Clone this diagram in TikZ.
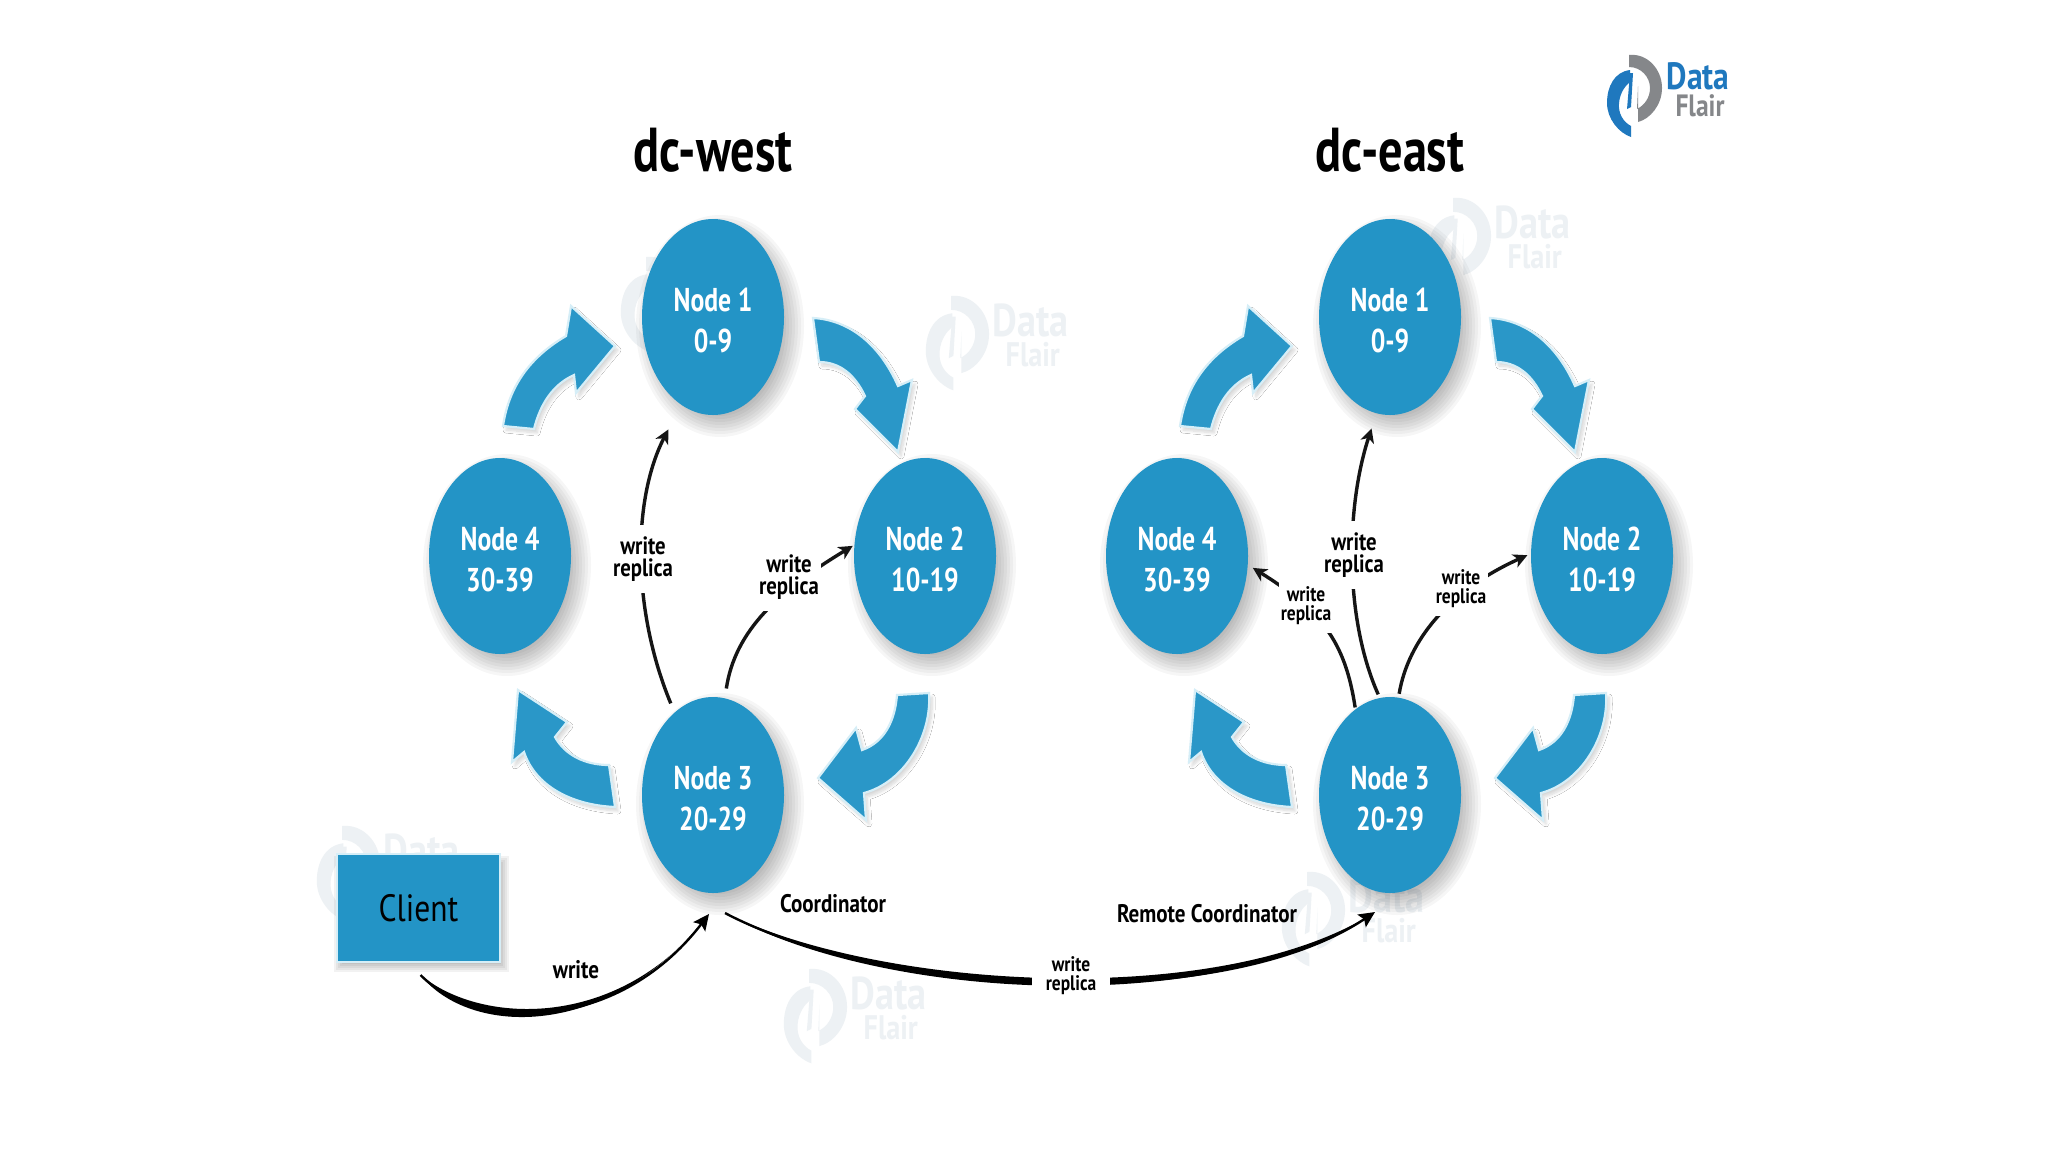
\documentclass[tikz,border=0pt]{standalone}
\usepackage{fontspec}
\setmainfont{PT Sans}[FakeStretch=0.78]
\newfontfamily\widerface{PT Sans}[FakeStretch=0.83]
\usetikzlibrary{shapes.geometric,arrows.meta,shadows.blur}
\definecolor{nodeblue}{HTML}{2394C6}
\definecolor{arrowblue}{HTML}{2A97C8}
\definecolor{rimblue}{HTML}{D6EEF7}
\definecolor{logoblue}{HTML}{1F78BE}
\definecolor{logogray}{HTML}{85878A}
\definecolor{wmark}{HTML}{EDF1F4}
\definecolor{inkline}{HTML}{151515}
\tikzset{
  lightshadow/.style={blur shadow={shadow xshift=1.5pt,shadow yshift=-2pt,shadow blur steps=8,shadow blur radius=1.5pt,shadow opacity=16}},
  ringnode/.style={ellipse,fill=nodeblue,minimum width=71pt,minimum height=98pt,inner sep=0pt,outer sep=0pt,align=center,text=white,font=\fontsize{16.5}{20.5}\selectfont\bfseries},
  blockarrow/.style={fill=arrowblue,draw=rimblue,line width=1.1pt,line join=miter,lightshadow},
  flow/.style={draw=inkline,line width=1.7pt,-{Stealth[length=7pt,width=7pt,inset=2pt]}},
  bigflow/.style={draw=black,line width=1.2pt,-{Stealth[length=8pt,width=7.5pt,inset=1.5pt]}},
  lab/.style={fill=white,inner xsep=1pt,inner ysep=6pt,align=center,text=black,font=\widerface\fontsize{12.5}{11}\selectfont\bfseries},
  labsmall/.style={lab,inner ysep=4pt,font=\widerface\fontsize{10.5}{9.6}\selectfont\bfseries},
  plain/.style={inner sep=0pt,text=black,font=\widerface\fontsize{12.7}{14}\selectfont\bfseries},
  titletext/.style={inner sep=0pt,text=black,font=\fontsize{31}{34}\selectfont\bfseries},
}
% logo: name, x, y, scale, colour 1, colour 2, size of Data, size of Flair
\newcommand{\flairlogo}[8]{%
  \begin{scope}[shift={(#2,#3)},scale=#4]
    \fill[#6] (-6,-40) .. controls (12,-42) and (27,-26) .. (27,-7) .. controls (27,10) and (15,24) .. (3,27)
      -- (3,-9) -- (2,14) .. controls (10,10) and (15,2) .. (15,-7) .. controls (15,-18) and (6,-28) .. (-6,-28) -- cycle;
    \fill[#5] (-5,-25) .. controls (-21,-23) and (-28,-8) .. (-28,8) .. controls (-28,24) and (-16,38) .. (-4,42)
      -- (-4,31) .. controls (-12,27) and (-17,18) .. (-16,8) .. controls (-15,-3) and (-9,-10) .. (-5,-13) -- cycle;
    \fill[#5] (-5,-22) -- (-2,-22) -- (-4,12) -- (-8,14) -- cycle;
    \node[inner sep=0pt,text=#5,font=\widerface\fontsize{#7}{#7}\selectfont\bfseries] (#1a) at (63,-19) {Data};
    \node[inner sep=0pt,text=#6,font=\widerface\fontsize{#8}{#8}\selectfont\bfseries] (#1b) at (65,11) {Flair};
  \end{scope}}
\newcommand{\ringtext}[2]{\rule{0pt}{15.6pt}#1\\#2}
% soft shadow of a node: stacked faint ellipses
\newcommand{\softblob}[2]{%
  \foreach \grow in {-14,-11,-8,-5,-2,1,4,7,10,13}{%
    \fill[black,opacity=.034] (#1+7,#2+9) ellipse [x radius=71+\grow,y radius=98+\grow];}}
% one ring of four nodes and its four block arrows
\newcommand{\ringof}[2]{%
  \begin{scope}[shift={(#2,0)}]
    \path[blockarrow] (503,426) .. controls (508,392) and (525,360) .. (566,336) -- (571,306) -- (615,346) -- (576,393)
      -- (574,375) .. controls (552,385) and (540,405) .. (534,429) -- cycle;
    \path[blockarrow] (813,318) .. controls (850,320) and (880,345) .. (898,386) -- (912,380) -- (898,452) -- (855,409)
      -- (865,396) .. controls (855,375) and (840,362) .. (819,362) -- cycle;
    \path[blockarrow] (929,693) .. controls (932,735) and (905,782) .. (864,793) -- (866,820) -- (818,778) -- (856,728)
      -- (862,750) .. controls (885,742) and (895,720) .. (897,695) -- cycle;
    \path[blockarrow] (615,807) .. controls (570,805) and (535,785) .. (524,752) -- (512,762) -- (518,690) -- (567,722)
      -- (555,737) .. controls (565,755) and (585,765) .. (609,765) -- cycle;
    \softblob{713}{317}\softblob{925}{556}\softblob{713}{795}\softblob{500}{556}
    \node[ringnode] (#1one) at (713,317) {\ringtext{Node 1}{0-9}};
    \node[ringnode] (#1two) at (925,556) {\ringtext{Node 2}{10-19}};
    \node[ringnode] (#1three) at (713,795) {\ringtext{Node 3}{20-29}};
    \node[ringnode] (#1four) at (500,556) {\ringtext{Node 4}{30-39}};
  \end{scope}}
\begin{document}
\begin{tikzpicture}[x=0.5pt,y=-0.5pt]
\useasboundingbox (0,0) rectangle (2048,1152);
\fill[white] (0,0) rectangle (2048,1152);
% watermarks
\flairlogo{wa}{958}{342}{1.15}{wmark}{wmark}{23}{17}
\flairlogo{wb}{1460}{244}{1.15}{wmark}{wmark}{23}{17}
\flairlogo{wc}{816}{1015}{1.15}{wmark}{wmark}{23}{17}
\flairlogo{wd}{349}{872}{1.15}{wmark}{wmark}{23}{17}
\flairlogo{we}{1314}{918}{1.15}{wmark}{wmark}{23}{17}
\flairlogo{wf}{653}{303}{1.15}{wmark}{wmark}{23}{17}
% logo
\flairlogo{logo}{1635}{95}{1}{logoblue}{logogray}{19}{15.4}
% titles
\node[titletext] (titlewest) at (713,150) {dc-west};
\node[titletext] (titleeast) at (1390,150) {dc-east};
% rings
\ringof{w}{0}
\ringof{e}{677}
% client
\foreach \grow in {-6,-4,-2,0,2,4,6}{%
  \fill[black,opacity=.05] (337+3-\grow,854+8-\grow) rectangle (500+3+\grow,962+4+\grow);}
\node[rectangle,fill=nodeblue,draw=rimblue,line width=.6pt,minimum width=81.5pt,minimum height=54pt,inner sep=0pt,outer sep=0pt,text=black,font=\widerface\fontsize{19}{20}\selectfont] (client) at (418.5,908) {Client};
% west replicas
\draw[flow,shorten <=5pt,shorten >=14pt] (wthree.115) .. controls (632,610) and (632,500) .. (wone.250);
\node[lab] (lwone) at (643,559) {write\\replica};
\draw[flow,shorten <=5pt,shorten >=1pt] (wthree.83) .. controls (735,630) and (780,590) .. (wtwo.171);
\node[lab] (lwtwo) at (789,577) {write\\replica};
% east replicas
\draw[flow,shorten <=2pt,shorten >=8pt] (ethree.96) .. controls (1345,620) and (1345,510) .. (eone.262);
\node[lab] (leone) at (1354,555) {write\\replica};
\draw[flow,shorten <=1pt,shorten >=3pt] (ethree.112) .. controls (1345,640) and (1320,610) .. (efour.353);
\node[labsmall] (lefour) at (1306,606) {write\\replica};
\draw[flow,shorten <=2pt,shorten >=2pt] (ethree.85) .. controls (1408,640) and (1450,590) .. (etwo.178);
\node[labsmall] (letwo) at (1461,589) {write\\replica};
% client write: tapered curve
\fill[black] ([xshift=1pt,yshift=-6.5pt]client.south) .. controls (470,1037) and (610,1041) .. ([xshift=-2pt,yshift=-10.5pt]wthree.south)
  .. controls (622,1030) and (482,1026) .. ([xshift=1pt,yshift=-6.5pt]client.south) -- cycle;
\draw[bigflow] ([xshift=1pt,yshift=-6.5pt]client.south) .. controls (476,1031) and (616,1035) .. ([xshift=-2pt,yshift=-10.5pt]wthree.south);
\node[plain] (lwrite) at (576,970) {write};
% remote write: tapered curve
\fill[black] ([xshift=6pt,yshift=-10pt]wthree.south) .. controls (878,1000) and (1218,1020) .. ([xshift=-7.5pt,yshift=-9.5pt]ethree.south)
  .. controls (1222,1010) and (882,990) .. ([xshift=6pt,yshift=-10pt]wthree.south) -- cycle;
\draw[bigflow] ([xshift=6pt,yshift=-10pt]wthree.south) .. controls (880,995) and (1220,1015) .. ([xshift=-7.5pt,yshift=-9.5pt]ethree.south);
\node[labsmall,inner xsep=7pt,inner ysep=6pt] (lremote) at (1071,976) {write\\replica};
\node[plain] (lcoord) at (833,904) {Coordinator};
\node[plain] (lremc) at (1207,914) {Remote Coordinator};
\end{tikzpicture}
\end{document}
